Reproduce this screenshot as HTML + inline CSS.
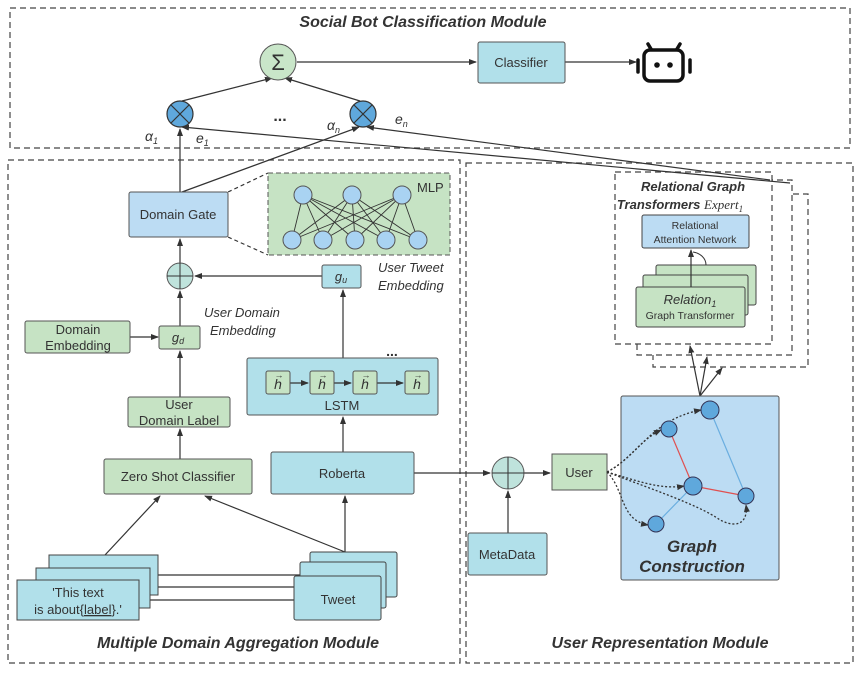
<!DOCTYPE html>
<html><head><meta charset="utf-8"><style>body{margin:0;background:#fff}svg{display:block}text{font-family:"Liberation Sans","DejaVu Sans",sans-serif;fill:#333}</style></head><body>
<svg width="860" height="673" viewBox="0 0 860 673" xmlns="http://www.w3.org/2000/svg">
<defs><marker id="a" markerWidth="8" markerHeight="8" refX="7" refY="4" orient="auto" markerUnits="userSpaceOnUse"><path d="M0,1 L8,4 L0,7 z" fill="#333"/></marker></defs>
<g fill="none" stroke="#444" stroke-dasharray="6,4" stroke-width="1.2">
<rect x="10" y="8" width="840" height="140"/>
<rect x="8" y="160" width="452" height="503"/>
<rect x="466" y="163" width="387" height="500"/>
<rect x="653" y="194" width="155" height="173"/>
<rect x="637" y="180" width="155" height="175" fill="#fff"/>
<rect x="615" y="172" width="157" height="172" fill="#fff"/>
</g>
<g stroke="#333" stroke-width="1.2" fill="none">
<line x1="297" y1="62" x2="476" y2="62" marker-end="url(#a)"/>
<line x1="565" y1="62" x2="636" y2="62" marker-end="url(#a)"/>
<line x1="182" y1="101" x2="272" y2="78" marker-end="url(#a)"/>
<line x1="360" y1="101" x2="285" y2="78" marker-end="url(#a)"/>
<line x1="180" y1="192" x2="180" y2="129" marker-end="url(#a)"/>
<line x1="182" y1="192" x2="359" y2="127" marker-end="url(#a)"/>
<line x1="790" y1="183" x2="182" y2="127" marker-end="url(#a)"/>
<line x1="770" y1="180" x2="367" y2="127" marker-end="url(#a)"/>
<line x1="180" y1="263" x2="180" y2="239" marker-end="url(#a)"/>
<line x1="322" y1="276" x2="195" y2="276" marker-end="url(#a)"/>
<line x1="343" y1="358" x2="343" y2="290" marker-end="url(#a)"/>
<line x1="343" y1="452" x2="343" y2="417" marker-end="url(#a)"/>
<line x1="180" y1="326" x2="180" y2="291" marker-end="url(#a)"/>
<line x1="130" y1="337" x2="158" y2="337" marker-end="url(#a)"/>
<line x1="180" y1="397" x2="180" y2="351" marker-end="url(#a)"/>
<line x1="180" y1="459" x2="180" y2="429" marker-end="url(#a)"/>
<line x1="105" y1="555" x2="160" y2="496" marker-end="url(#a)"/>
<line x1="345" y1="552" x2="205" y2="496" marker-end="url(#a)"/>
<line x1="345" y1="552" x2="345" y2="496" marker-end="url(#a)"/>
<line x1="414" y1="473" x2="490" y2="473" marker-end="url(#a)"/>
<line x1="524" y1="473" x2="550" y2="473" marker-end="url(#a)"/>
<line x1="508" y1="533" x2="508" y2="491" marker-end="url(#a)"/>
<line x1="700" y1="396" x2="690" y2="346" marker-end="url(#a)"/>
<line x1="700" y1="396" x2="707" y2="357" marker-end="url(#a)"/>
<line x1="700" y1="396" x2="722" y2="368" marker-end="url(#a)"/>
<line x1="158" y1="575" x2="310" y2="575"/><line x1="150" y1="587" x2="300" y2="587"/><line x1="139" y1="600" x2="294" y2="600"/>
<line x1="228" y1="192" x2="268" y2="173" stroke-dasharray="4,3"/>
<line x1="228" y1="237" x2="268" y2="255" stroke-dasharray="4,3"/>
</g>
<circle cx="278" cy="62" r="18" fill="#c9e6c9" stroke="#555"/>
<text x="278" y="70" font-size="22" text-anchor="middle" font-family="Liberation Serif">Σ</text>
<g stroke="#333" stroke-width="1.2"><circle cx="180" cy="114" r="13" fill="#5fa8dc"/><line x1="171" y1="105" x2="189" y2="123"/><line x1="189" y1="105" x2="171" y2="123"/>
<circle cx="363" cy="114" r="13" fill="#5fa8dc"/><line x1="354" y1="105" x2="372" y2="123"/><line x1="372" y1="105" x2="354" y2="123"/></g>
<text x="280" y="121" font-size="16" font-weight="bold" text-anchor="middle">...</text>
<g font-family="Liberation Serif" font-style="italic" font-size="14"><text x="145" y="141">α<tspan font-size="9" dy="3">1</tspan></text><text x="196" y="143">e<tspan font-size="9" dy="3">1</tspan></text><text x="327" y="130">α<tspan font-size="9" dy="3">n</tspan></text><text x="395" y="124">e<tspan font-size="9" dy="3">n</tspan></text></g>
<rect x="478" y="42" width="87" height="41" rx="2" fill="#b1e0ea" stroke="#555"/><text x="521" y="67" font-size="13" text-anchor="middle">Classifier</text>
<g stroke="#111" stroke-width="3.5" fill="none" stroke-linecap="round"><rect x="644" y="50" width="39" height="31" rx="6"/><line x1="638" y1="60" x2="638" y2="72"/><line x1="690" y1="60" x2="690" y2="72"/><line x1="651" y1="49" x2="648" y2="44"/><line x1="677" y1="49" x2="680" y2="44"/></g>
<circle cx="657" cy="65" r="2.8" fill="#111"/><circle cx="670" cy="65" r="2.8" fill="#111"/>
<rect x="129" y="192" width="99" height="45" rx="2" fill="#bcdcf3" stroke="#555"/><text x="178" y="219" font-size="13" text-anchor="middle">Domain Gate</text>
<rect x="268" y="173" width="182" height="82" fill="#c6e3c4" stroke="#555" stroke-dasharray="5,3"/>
<text x="417" y="192" font-size="13">MLP</text>
<g stroke="#333" stroke-width="0.9"><path d="M303,195L292,240M303,195L323,240M303,195L355,240M303,195L386,240M303,195L418,240M352,195L292,240M352,195L323,240M352,195L355,240M352,195L386,240M352,195L418,240M402,195L292,240M402,195L323,240M402,195L355,240M402,195L386,240M402,195L418,240"/></g>
<g fill="#a9d3f2" stroke="#555"><circle cx="303" cy="195" r="9"/><circle cx="352" cy="195" r="9"/><circle cx="402" cy="195" r="9"/><circle cx="292" cy="240" r="9"/><circle cx="323" cy="240" r="9"/><circle cx="355" cy="240" r="9"/><circle cx="386" cy="240" r="9"/><circle cx="418" cy="240" r="9"/></g>
<circle cx="180" cy="276" r="13" fill="#bfe3dc" stroke="#555"/><path d="M167,276H193M180,263V289" stroke="#333"/>
<rect x="322" y="265" width="39" height="23" rx="2" fill="#b1e0ea" stroke="#555"/><text x="341" y="281" font-family="Liberation Serif" font-style="italic" font-size="13" text-anchor="middle">g<tspan font-size="9" dy="2">u</tspan></text>
<text x="378" y="272" font-size="13" font-style="italic">User Tweet</text><text x="378" y="290" font-size="13" font-style="italic">Embedding</text>
<rect x="159" y="326" width="41" height="23" rx="2" fill="#c6e3c4" stroke="#555"/><text x="178" y="342" font-family="Liberation Serif" font-style="italic" font-size="13" text-anchor="middle">g<tspan font-size="9" dy="2">d</tspan></text>
<text x="204" y="317" font-size="13" font-style="italic">User Domain</text><text x="210" y="335" font-size="13" font-style="italic">Embedding</text>
<rect x="25" y="321" width="105" height="32" rx="2" fill="#c6e3c4" stroke="#555"/><text x="78" y="334" font-size="13" text-anchor="middle">Domain</text><text x="78" y="350" font-size="13" text-anchor="middle">Embedding</text>
<rect x="128" y="397" width="102" height="30" rx="2" fill="#c6e3c4" stroke="#555"/><text x="179" y="409" font-size="13" text-anchor="middle">User</text><text x="179" y="425" font-size="13" text-anchor="middle">Domain Label</text>
<rect x="104" y="459" width="148" height="35" rx="2" fill="#c6e3c4" stroke="#555"/><text x="178" y="481" font-size="13" text-anchor="middle">Zero Shot Classifier</text>
<rect x="271" y="452" width="143" height="42" rx="2" fill="#b1e0ea" stroke="#555"/><text x="342" y="478" font-size="13" text-anchor="middle">Roberta</text>
<rect x="247" y="358" width="191" height="57" rx="2" fill="#b1e0ea" stroke="#555"/><text x="342" y="410" font-size="13" text-anchor="middle">LSTM</text>
<text x="392" y="356" font-size="14" font-weight="bold" text-anchor="middle">...</text>
<g stroke="#333" stroke-width="1.2"><line x1="290" y1="383" x2="308" y2="383" marker-end="url(#a)"/><line x1="334" y1="383" x2="351" y2="383" marker-end="url(#a)"/><line x1="377" y1="383" x2="403" y2="383" marker-end="url(#a)"/></g>
<g fill="#c6e3c4" stroke="#555"><rect x="266" y="371" width="24" height="23" rx="2"/><rect x="310" y="371" width="24" height="23" rx="2"/><rect x="353" y="371" width="24" height="23" rx="2"/><rect x="405" y="371" width="24" height="23" rx="2"/></g>
<g font-family="Liberation Serif" font-style="italic" font-size="14" text-anchor="middle"><text x="278" y="389">h</text><text x="322" y="389">h</text><text x="365" y="389">h</text><text x="417" y="389">h</text></g>
<g font-size="9" text-anchor="middle"><text x="279" y="378">→</text><text x="323" y="378">→</text><text x="366" y="378">→</text><text x="418" y="378">→</text></g>
<g fill="#b1e0ea" stroke="#444"><rect x="49" y="555" width="109" height="40"/><rect x="36" y="568" width="114" height="40"/><rect x="17" y="580" width="122" height="40"/>
<rect x="310" y="552" width="87" height="45" rx="2"/><rect x="300" y="562" width="86" height="46" rx="2"/><rect x="294" y="576" width="87" height="44" rx="2"/></g>
<text x="78" y="597" font-size="13" text-anchor="middle">'This text</text><text x="78" y="614" font-size="13" text-anchor="middle">is about{<tspan text-decoration="underline">label</tspan>}.'</text>
<text x="338" y="604" font-size="13" text-anchor="middle">Tweet</text>
<circle cx="508" cy="473" r="16" fill="#bfe3dc" stroke="#555"/><path d="M492,473H524M508,457V489" stroke="#333"/>
<rect x="552" y="454" width="55" height="36" fill="#c6e3c4" stroke="#555"/><text x="579" y="477" font-size="13" text-anchor="middle">User</text>
<rect x="468" y="533" width="79" height="42" rx="2" fill="#b1e0ea" stroke="#555"/><text x="507" y="559" font-size="13" text-anchor="middle">MetaData</text>
<rect x="621" y="396" width="158" height="184" rx="2" fill="#bcdcf3" stroke="#555"/>
<g stroke-width="1.2"><line x1="669" y1="429" x2="693" y2="486" stroke="#e05050"/><line x1="693" y1="486" x2="746" y2="496" stroke="#e05050"/><line x1="710" y1="410" x2="746" y2="496" stroke="#6aaee0"/><line x1="693" y1="486" x2="656" y2="524" stroke="#6aaee0"/></g>
<g fill="none" stroke="#333" stroke-dasharray="2,2" stroke-width="1.3">
<path d="M607,472 C630,460 640,440 661,430" marker-end="url(#a)"/>
<path d="M607,472 C640,455 650,420 701,410" marker-end="url(#a)"/>
<path d="M607,472 C635,480 660,490 684,486" marker-end="url(#a)"/>
<path d="M607,472 C640,485 700,505 720,520 C740,530 748,520 746,505" marker-end="url(#a)"/>
<path d="M607,472 C625,490 620,520 648,525" marker-end="url(#a)"/>
</g>
<g fill="#5fa8dc" stroke="#335"><circle cx="710" cy="410" r="9"/><circle cx="669" cy="429" r="8"/><circle cx="693" cy="486" r="9"/><circle cx="746" cy="496" r="8"/><circle cx="656" cy="524" r="8"/></g>
<rect x="642" y="215" width="107" height="33" rx="2" fill="#bcdcf3" stroke="#444"/><text x="695" y="229" font-size="10.5" text-anchor="middle">Relational</text><text x="695" y="243" font-size="10.5" text-anchor="middle">Attention Network</text>
<g fill="#c6e3c4" stroke="#444"><rect x="656" y="265" width="100" height="40" rx="2"/><rect x="643" y="275" width="105" height="40" rx="2"/><rect x="636" y="287" width="109" height="40" rx="2"/></g>
<path d="M691,287V250" stroke="#333" stroke-width="1.2" marker-end="url(#a)"/><path d="M706,265 C706,258 700,253 693,252" stroke="#333" fill="none"/>
<text x="690" y="304" font-family="Liberation Serif" font-style="italic" font-size="13" text-anchor="middle">Relation<tspan font-size="9" dy="3">1</tspan></text>
<text x="690" y="319" font-size="10.5" text-anchor="middle">Graph Transformer</text>
<g font-weight="bold" font-style="italic" font-size="16" text-anchor="middle">
<text x="423" y="27">Social Bot Classification Module</text>
<text x="238" y="648">Multiple Domain Aggregation Module</text>
<text x="660" y="648">User Representation Module</text>
<text x="692" y="552" font-size="17">Graph</text>
<text x="692" y="572" font-size="17">Construction</text>
<text x="693" y="191" font-size="13">Relational Graph</text>
<text x="680" y="209" font-size="13">Transformers <tspan font-family="Liberation Serif" font-weight="normal">Expert</tspan><tspan font-family="Liberation Serif" font-weight="normal" font-size="9" dy="3">1</tspan></text>
</g>
</svg>
</body></html>
